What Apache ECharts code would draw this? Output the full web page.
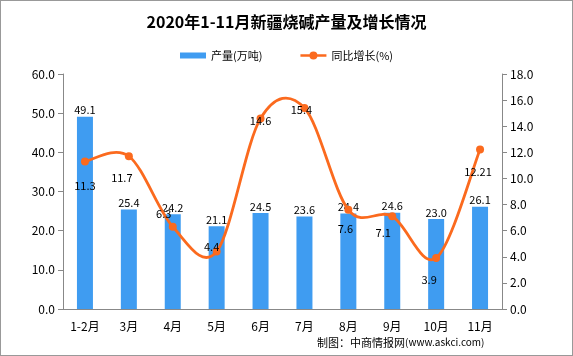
<!DOCTYPE html>
<html><head><meta charset="utf-8">
<script src="https://cdn.jsdelivr.net/npm/echarts@6/dist/echarts.min.js"></script>
<style>html,body{margin:0;padding:0;background:#fff}#c{width:571px;height:354px;border:1px solid #999}</style>
</head><body><div id="c"></div>
<script>
const categories = ['1-2月','3月','4月','5月','6月','7月','8月','9月','10月','11月'];
const output = [49.1,25.4,24.2,21.1,24.5,23.6,24.4,24.6,23.0,26.1];
const growth = [11.3,11.7,6.3,4.4,14.6,15.4,7.6,7.1,3.9,12.21];
const leftTicks = {min:0,max:60,interval:10};
const rightTicks = {min:0,max:18,interval:2};

// label placement offsets for the growth labels (pixels relative to point)
const growthLabelOffsets = [[0,24],[-7,22],[-9,-13],[-5,-5],[0,2],[-3,2],[-3,19],[-9,17],[-7,22],[-2,22]];

const font = '"Noto Sans CJK SC", sans-serif';
const lineColor = '#fb6a1e';
const chart = echarts.init(document.getElementById('c'));

function smoothPath(pts){
  // Excel-like cardinal (Catmull-Rom) smoothing
  let d = 'M' + pts[0][0] + ' ' + pts[0][1];
  for (let i = 0; i < pts.length - 1; i++) {
    const p0 = pts[Math.max(i-1,0)], p1 = pts[i], p2 = pts[i+1], p3 = pts[Math.min(i+2,pts.length-1)];
    const c1 = [p1[0] + (p2[0]-p0[0])/6, p1[1] + (p2[1]-p0[1])/6];
    const c2 = [p2[0] - (p3[0]-p1[0])/6, p2[1] - (p3[1]-p1[1])/6];
    d += ' C' + c1[0] + ' ' + c1[1] + ' ' + c2[0] + ' ' + c2[1] + ' ' + p2[0] + ' ' + p2[1];
  }
  return d;
}

chart.setOption({
  animation:false,
  title:{text:'2020年1-11月新疆烧碱产量及增长情况',left:'center',top:8,
    textStyle:{fontFamily:font,fontSize:16,fontWeight:'bold',color:'#000'}},
  legend:{top:44,left:'center',itemGap:38,itemWidth:26,itemHeight:8,
    textStyle:{fontFamily:font,fontSize:11,color:'#000'},
    data:[{name:'产量(万吨)',icon:'path://M0,1H26V7H0Z'},
          {name:'同比增长(%)',icon:'path://M0,2.7H26V5.3H0Z M9,4A4,4 0 1,1 17,4A4,4 0 1,1 9,4Z'}]},
  grid:{left:62,right:70,top:73,bottom:46},
  xAxis:{type:'category',data:categories,
    axisLine:{lineStyle:{color:'#888'}},axisTick:{lineStyle:{color:'#888'}},
    axisLabel:{fontFamily:font,fontSize:12,color:'#000',margin:11}},
  yAxis:[
    {type:'value',min:leftTicks.min,max:leftTicks.max,interval:leftTicks.interval,
      axisLine:{show:true,lineStyle:{color:'#888'}},axisTick:{show:true,lineStyle:{color:'#888'}},
      splitLine:{show:false},
      axisLabel:{formatter:v=>v.toFixed(1),fontFamily:font,fontSize:12,color:'#000'}},
    {type:'value',min:rightTicks.min,max:rightTicks.max,interval:rightTicks.interval,position:'right',
      axisLine:{show:true,lineStyle:{color:'#888'}},axisTick:{show:true,lineStyle:{color:'#888'}},
      splitLine:{show:false},
      axisLabel:{formatter:v=>v.toFixed(1),fontFamily:font,fontSize:12,color:'#000'}}
  ],
  series:[
    {name:'产量(万吨)',type:'bar',data:output,barWidth:16,itemStyle:{color:'#3f9cf1'},z:2,
      label:{show:true,position:'top',distance:1,formatter:p=>p.value.toFixed(1),fontFamily:font,fontSize:11,color:'#000'}},
    {name:'smooth-line',type:'custom',yAxisIndex:1,data:[0],z:3,silent:true,
      renderItem:function(params, api){
        const pts = growth.map((v,i)=>api.coord([i, v]));
        return {type:'path',shape:{pathData:smoothPath(pts)},
          style:{fill:'none',stroke:lineColor,lineWidth:2.8}};
      }},
    {name:'同比增长(%)',type:'line',yAxisIndex:1,z:4,
      data:growth.map((v,i)=>({value:v,label:{offset:growthLabelOffsets[i]}})),
      symbol:'circle',symbolSize:8,lineStyle:{color:lineColor,width:0,opacity:0},itemStyle:{color:lineColor},
      label:{show:true,position:'inside',formatter:p=>String(p.value),fontFamily:font,fontSize:11,color:'#000'}}
  ],
  graphic:[{type:'text',left:316,top:336,style:{
    text:'{a|制图：中商情报网}{b|(www.askci.com)}',
    rich:{a:{fontFamily:font,fontSize:11,fill:'#000'},b:{fontFamily:font,fontSize:10,fill:'#000'}}}}]
});
</script></body></html>
